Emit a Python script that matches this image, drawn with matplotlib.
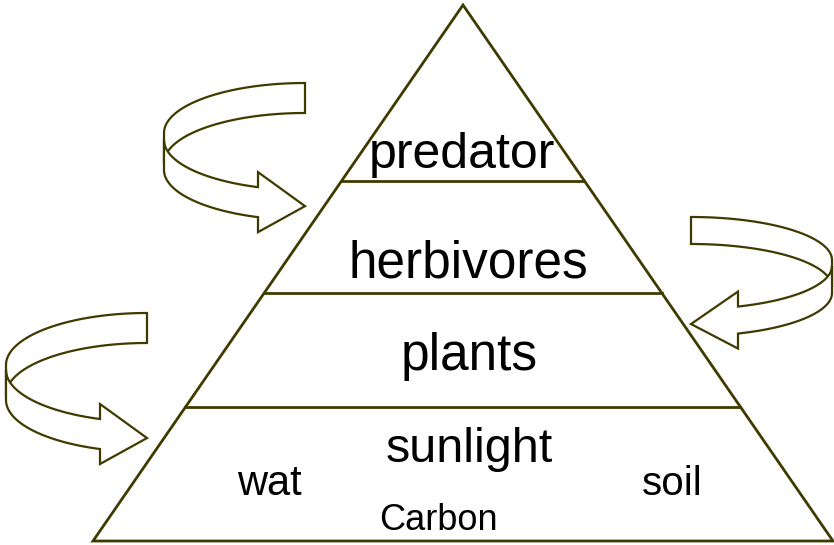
import numpy as np
import matplotlib.pyplot as plt
from matplotlib.patches import Polygon

plt.rcParams['font.family'] = ['Liberation Sans', 'DejaVu Sans']

# pyramid levels (y of dividing lines, top to bottom) and their labels
level_lines = [181, 293, 407]
level_labels = ['predator', 'herbivores', 'plants', 'sunlight']
level_label_x = [462, 468, 469, 469]
level_label_y = [168, 277, 370, 462]
level_label_size = [36, 37, 37, 35]

# extra labels in the bottom level
extra_labels = ['wat', 'soil', 'Carbon']
extra_x = [269, 672, 438]
extra_y = [495, 495, 530]
extra_size = [30, 29, 26]

line_col = '#3f3b00'
apex = (463, 5)
base_y = 541
base_left, base_right = 93, 833

fig = plt.figure(figsize=(8.34, 5.45), dpi=100)
ax = fig.add_axes([0, 0, 1, 1])
ax.set_xlim(0, 834)
ax.set_ylim(545, 0)
ax.axis('off')


def edge_x(y):
    f = (y - apex[1]) / (base_y - apex[1])
    return apex[0] + (base_left - apex[0]) * f, apex[0] + (base_right - apex[0]) * f


def curved_arrow(cx, top, a, b, h, shift, side, head=15):
    cyb = top + b
    # back half of the ribbon
    phi = np.linspace(0, np.pi / 2, 60)
    xb = cx + side * a * np.sin(phi)
    yt = cyb - b * np.cos(phi)
    back = np.vstack([np.column_stack([xb, yt]),
                      np.column_stack([xb[::-1], yt[::-1] + h])])
    ax.add_patch(Polygon(back, closed=True, fc='white', ec=line_col, lw=1.6, joinstyle='miter'))
    # front half ending in the arrow head
    phi_end = np.pi - np.arcsin(1 / 3)
    phi = np.linspace(np.pi / 2, phi_end, 60)
    xf = cx + side * a * np.sin(phi)
    yf = cyb + shift - b * np.cos(phi)
    xs, ys = xf[-1], yf[-1]
    tip = (cx, ys + h / 2 + 4)
    head_pts = [(xs, ys - head), tip, (xs, ys + h + head)]
    front = np.vstack([np.column_stack([xf, yf]), head_pts,
                       np.column_stack([xf[::-1], yf[::-1] + h])])
    ax.add_patch(Polygon(front, closed=True, fc='white', ec=line_col, lw=1.6, joinstyle='miter'))


# pyramid
tri = [apex, (base_left, base_y), (base_right, base_y)]
ax.add_patch(Polygon(tri, closed=True, fc='white', ec=line_col, lw=2, joinstyle='miter'))
for y in level_lines:
    xl, xr = edge_x(y)
    ax.plot([xl, xr], [y, y], color=line_col, lw=2)

# arrows
curved_arrow(305, 83, 141, 50, 30, 7, -1)
curved_arrow(691, 217, 141, 43, 27, 6, 1)
curved_arrow(147, 313, 141, 52, 30, 5, -1)

for lab, x, y, s in zip(level_labels, level_label_x, level_label_y, level_label_size):
    ax.text(x, y, lab, ha='center', va='baseline', fontsize=s, color='black')
for lab, x, y, s in zip(extra_labels, extra_x, extra_y, extra_size):
    ax.text(x, y, lab, ha='center', va='baseline', fontsize=s, color='black')

plt.savefig('out.png', dpi=100)
plt.close()
